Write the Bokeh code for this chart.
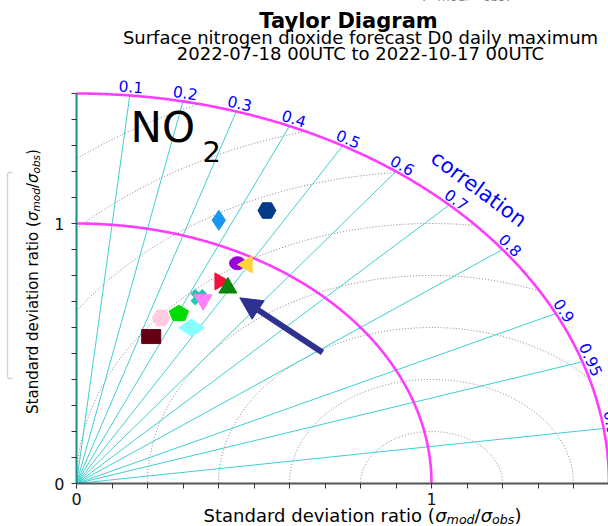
import numpy as np
from bokeh.plotting import figure
from bokeh.models import FixedTicker, Label, Arrow, NormalHead
from bokeh.core.properties import value
from bokeh.embed import file_html
from bokeh.resources import INLINE

# ---------------- data ----------------
corr_ticks = [0.1, 0.2, 0.3, 0.4, 0.5, 0.6, 0.7, 0.8, 0.9, 0.95, 0.99]
corr_labels = ["0.1", "0.2", "0.3", "0.4", "0.5", "0.6", "0.7", "0.8", "0.9", "0.95", "0.99"]
rms_levels = [0.2, 0.4, 0.6, 0.8, 1.0, 1.2, 1.4, 1.6]
std_arcs = [1.0, 1.5]
std_major = [0, 1]
std_minor = [0.1, 0.2, 0.3, 0.4, 0.5, 0.6, 0.7, 0.8, 0.9, 1.1, 1.2, 1.3, 1.4, 1.5]
std_max = 1.5

model_std = [1.089, 1.179, 0.961, 0.970, 0.876, 0.865, 0.795, 0.791, 0.680, 0.714, 0.681, 0.603]
model_corr = [0.368, 0.455, 0.472, 0.496, 0.461, 0.493, 0.433, 0.451, 0.351, 0.404, 0.476, 0.349]
model_color = ["#1896f0", "#003d86", "#9900dd", "#ffd43c", "#f5103f", "#0a840a",
               "#15cfae", "#ff80ff", "#ffcce0", "#00dc00", "#88ffff", "#650014"]
model_marker = ["diamond", "hex", "ellipse", "triangle_left", "triangle_right", "triangle",
                "x_filled", "inverted_triangle", "hex", "pentagon", "wide_diamond", "rect"]

arrow_from = (0.693, 0.504)
arrow_to = (0.460, 0.714)

# ---------------- layout ----------------
W, H = 608, 526
OX, OY = 76, 483               # canvas pixel position of the origin
SX, SY = 355.0, 260.0          # pixels per unit

p = figure(width=W, height=H,
           x_range=(-OX / SX, (W - OX) / SX), y_range=(-(H - OY) / SY, OY / SY),
           output_backend="svg", toolbar_location=None, title=None,
           min_border_left=0, min_border_bottom=0, min_border_top=0, min_border_right=0)
p.outline_line_color = None
p.grid.visible = False
p.background_fill_color = "white"
p.border_fill_color = "white"

for ax in (p.xaxis, p.yaxis):
    ax.fixed_location = 0
    ax.ticker = FixedTicker(ticks=std_major, minor_ticks=std_minor)
    ax.bounds = (0, std_max)
    ax.major_tick_out = 5
    ax.major_tick_in = 0
    ax.minor_tick_out = 5
    ax.minor_tick_in = 0
    ax.major_tick_line_color = "#333333"
    ax.minor_tick_line_color = "#333333"
    ax.major_label_text_font = "DejaVu Sans"
    ax.major_label_text_font_size = "16px"
    ax.major_label_text_color = "#111111"
p.xaxis.axis_line_color = "#555555"
p.xaxis.axis_line_width = 2
p.xaxis.major_label_standoff = 4
p.yaxis.axis_line_color = "#1a8c8c"
p.yaxis.axis_line_width = 2
p.yaxis.major_label_standoff = 7


def cx(X):
    return (X - OX) / SX


def cy(Y):
    return (OY - Y) / SY


# faint bracket at the far left (decoration of the source page)
p.line([cx(12), cx(8), cx(7), cx(7), cx(8), cx(12)],
       [cy(172), cy(172), cy(174), cy(376), cy(378), cy(378)],
       line_color="#d4d4d4", line_width=1.5)

# RMS dotted arcs centred on (1, 0)
phi = np.linspace(0, np.pi, 800)
for R in rms_levels:
    x = 1 + R * np.cos(phi)
    y = R * np.sin(phi)
    keep = (x ** 2 + y ** 2 <= std_max ** 2) & (x >= 0)
    x = np.where(keep, x, np.nan)
    y = np.where(keep, y, np.nan)
    p.line(x, y, line_color="#808080", line_width=1, line_dash="1 2")

# correlation rays
c = np.array(corr_ticks)
th = np.arccos(c)
p.multi_line([[0, std_max * np.cos(t)] for t in th],
             [[0, std_max * np.sin(t)] for t in th],
             line_color="#3fcfcf", line_width=1)

# std arcs
theta = np.linspace(0, np.pi / 2, 500)
for s in std_arcs:
    p.line(s * np.cos(theta), s * np.sin(theta), line_color="#ff3cff", line_width=2.6)

# correlation tick labels
ex, ey = std_max * np.cos(th), std_max * np.sin(th)
alpha = np.arctan2(ey * SY, ex * SX)
lx = ex + 9 * np.cos(alpha) / SX
ly = ey + 9 * np.sin(alpha) / SY
rot = np.arctan2(-SY * np.cos(th), SX * np.sin(th))
p.text(lx, ly, text=corr_labels, angle=rot, text_align="center", text_baseline="middle",
       text_color="#0000ff", text_font=value("DejaVu Sans"), text_font_size="15.5px")

# markers
ms = np.array(model_std)
mc = np.array(model_corr)
mx = ms * mc
my = ms * np.sqrt(1 - mc ** 2)
for i, kind in enumerate(model_marker):
    col = model_color[i]
    X, Y = [mx[i]], [my[i]]
    if kind == "diamond":
        p.scatter(X, Y, marker="diamond", size=20, fill_color=col, line_color=col)
    elif kind == "wide_diamond":
        p.scatter(X, Y, marker="diamond", size=26, angle=np.pi / 2, fill_color=col, line_color=col)
    elif kind == "hex":
        p.scatter(X, Y, marker="hex", size=18, fill_color=col, line_color=col)
    elif kind == "ellipse":
        p.ellipse(X, Y, width=16, height=13, width_units="screen", height_units="screen",
                  fill_color=col, line_color=col)
    elif kind == "triangle_left":
        p.scatter(X, Y, marker="triangle", size=17, angle=np.pi / 2, fill_color=col, line_color=col)
    elif kind == "triangle_right":
        p.scatter(X, Y, marker="triangle", size=17, angle=-np.pi / 2, fill_color=col, line_color=col)
    elif kind == "triangle":
        p.scatter(X, Y, marker="triangle", size=18, fill_color=col, line_color=col)
    elif kind == "inverted_triangle":
        p.scatter(X, Y, marker="inverted_triangle", size=18, fill_color=col, line_color=col)
    elif kind == "x_filled":
        p.scatter(X, Y, marker="plus", size=16, angle=np.pi / 4, fill_color=col, line_color=col)
    elif kind == "pentagon":
        a = np.pi / 2 + np.arange(5) * 2 * np.pi / 5
        px = mx[i] + 1.2 * 8.5 * np.cos(a) / SX
        py = my[i] + 8.5 * np.sin(a) / SY
        p.patch(px, py, fill_color=col, line_color=col)
    elif kind == "rect":
        p.rect(X, Y, width=19, height=14, width_units="screen", height_units="screen",
               fill_color=col, line_color=col)

# arrow
navy = "#2e3190"
p.add_layout(Arrow(end=NormalHead(size=22, fill_color=navy, line_color=navy),
                   x_start=arrow_from[0], y_start=arrow_from[1],
                   x_end=arrow_to[0], y_end=arrow_to[1],
                   line_color=navy, line_width=6))


# ---------------- texts ----------------
BASE_FIX = 0.33   # Label's alphabetic anchor sits this many em above the drawn baseline


def lab(X, Y, text, size, vertical=False, **kw):
    """Place a label so that its baseline lands at canvas pixel coords (origin top-left)."""
    kw.setdefault("text_baseline", "alphabetic")
    kw.setdefault("text_color", "black")
    if vertical:
        X = X - BASE_FIX * size
    else:
        Y = Y - BASE_FIX * size
    p.add_layout(Label(x=X, y=H - Y, x_units="screen", y_units="screen",
                       text=text, text_font="DejaVu Sans", text_font_size=f"{size}px", **kw))


lab(348, 27, "Taylor Diagram", 21, text_align="center", text_font_style="bold")
lab(360, 43, "Surface nitrogen dioxide forecast D0 daily maximum", 18, text_align="center")
lab(360, 58.5, "2022-07-18 00UTC to 2022-10-17 00UTC", 18, text_align="center")

lab(130, 141, "NO", 42)
lab(202, 161, "2", 29)

p.add_layout(Label(x=1.133, y=1.133, text="correlation", angle=np.deg2rad(-36.5),
                   text_align="center", text_baseline="middle", text_color="#0000ff",
                   text_font="DejaVu Sans", text_font_size="21px"))

# axis labels (with sub-scripted sigma ratio)
ratio_pieces = [("σ", "italic", 1.0, 0.0, 0.634),
                ("mod", "italic", 0.7, 0.12, 1.555),
                ("/", "normal", 1.0, 0.0, 0.337),
                ("σ", "italic", 1.0, 0.0, 0.634),
                ("obs", "italic", 0.7, 0.12, 1.238),
                (")", "normal", 1.0, 0.0, 0.390)]
axis_pieces = [("Standard deviation ratio (", "normal", 1.0, 0.0, 12.867)] + ratio_pieces
top_pieces = [("(", "normal", 1.0, 0.0, 0.390)] + ratio_pieces


def composite(pieces, CX, CY, F, vertical, centred=True):
    total = sum(w for *_, w in pieces) * F
    pos = -total / 2 if centred else 0.0
    for txt, style, scale, drop, w in pieces:
        if vertical:
            X, Y, ang = CX + drop * F, CY - pos, np.pi / 2
        else:
            X, Y, ang = CX + pos, CY + drop * F, 0
        lab(X, Y, txt, round(F * scale, 2), vertical=vertical, text_font_style=style,
            angle=ang, text_align="left")
        pos += w * F


composite(axis_pieces, 362, 520.5, 18, vertical=False)
composite(axis_pieces, 37, 281, 15, vertical=True)
# fragment of a header line that lies just above the picture's top edge
composite(top_pieces, 419, -1.6, 18, vertical=False, centred=False)

open("out.html", "w").write(file_html(p, INLINE))
